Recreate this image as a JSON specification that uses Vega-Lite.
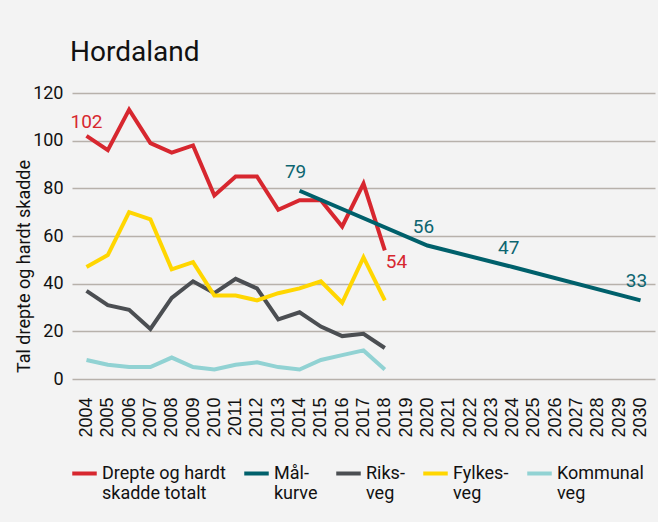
{
  "$schema": "https://vega.github.io/schema/vega-lite/v6.json",
  "width": 583,
  "height": 286,
  "autosize": "none",
  "padding": {"left": 72, "top": 93, "right": 3, "bottom": 143},
  "background": "#f3f3f3",
  "title": {
    "text": "Hordaland",
    "anchor": "start",
    "frame": "group",
    "font": "Roboto",
    "fontSize": 28,
    "fontWeight": "normal",
    "color": "#111111",
    "dx": -2,
    "offset": 17
  },
  "config": {
    "view": {"stroke": null},
    "font": "Roboto",
    "axisX": {"labelOverlap": false},
    "legend": {"gridAlign": "none"}
  },
  "datasets": {
    "lines": [
      {"year": 2004, "series": "Drepte og hardt skadde totalt", "value": 102},
      {"year": 2005, "series": "Drepte og hardt skadde totalt", "value": 96},
      {"year": 2006, "series": "Drepte og hardt skadde totalt", "value": 113},
      {"year": 2007, "series": "Drepte og hardt skadde totalt", "value": 99},
      {"year": 2008, "series": "Drepte og hardt skadde totalt", "value": 95},
      {"year": 2009, "series": "Drepte og hardt skadde totalt", "value": 98},
      {"year": 2010, "series": "Drepte og hardt skadde totalt", "value": 77},
      {"year": 2011, "series": "Drepte og hardt skadde totalt", "value": 85},
      {"year": 2012, "series": "Drepte og hardt skadde totalt", "value": 85},
      {"year": 2013, "series": "Drepte og hardt skadde totalt", "value": 71},
      {"year": 2014, "series": "Drepte og hardt skadde totalt", "value": 75},
      {"year": 2015, "series": "Drepte og hardt skadde totalt", "value": 75},
      {"year": 2016, "series": "Drepte og hardt skadde totalt", "value": 64},
      {"year": 2017, "series": "Drepte og hardt skadde totalt", "value": 82},
      {"year": 2018, "series": "Drepte og hardt skadde totalt", "value": 54},
      {"year": 2014, "series": "Målkurve", "value": 79},
      {"year": 2020, "series": "Målkurve", "value": 56},
      {"year": 2024, "series": "Målkurve", "value": 47},
      {"year": 2030, "series": "Målkurve", "value": 33},
      {"year": 2004, "series": "Riksveg", "value": 37},
      {"year": 2005, "series": "Riksveg", "value": 31},
      {"year": 2006, "series": "Riksveg", "value": 29},
      {"year": 2007, "series": "Riksveg", "value": 21},
      {"year": 2008, "series": "Riksveg", "value": 34},
      {"year": 2009, "series": "Riksveg", "value": 41},
      {"year": 2010, "series": "Riksveg", "value": 36},
      {"year": 2011, "series": "Riksveg", "value": 42},
      {"year": 2012, "series": "Riksveg", "value": 38},
      {"year": 2013, "series": "Riksveg", "value": 25},
      {"year": 2014, "series": "Riksveg", "value": 28},
      {"year": 2015, "series": "Riksveg", "value": 22},
      {"year": 2016, "series": "Riksveg", "value": 18},
      {"year": 2017, "series": "Riksveg", "value": 19},
      {"year": 2018, "series": "Riksveg", "value": 13},
      {"year": 2004, "series": "Fylkesveg", "value": 47},
      {"year": 2005, "series": "Fylkesveg", "value": 52},
      {"year": 2006, "series": "Fylkesveg", "value": 70},
      {"year": 2007, "series": "Fylkesveg", "value": 67},
      {"year": 2008, "series": "Fylkesveg", "value": 46},
      {"year": 2009, "series": "Fylkesveg", "value": 49},
      {"year": 2010, "series": "Fylkesveg", "value": 35},
      {"year": 2011, "series": "Fylkesveg", "value": 35},
      {"year": 2012, "series": "Fylkesveg", "value": 33},
      {"year": 2013, "series": "Fylkesveg", "value": 36},
      {"year": 2014, "series": "Fylkesveg", "value": 38},
      {"year": 2015, "series": "Fylkesveg", "value": 41},
      {"year": 2016, "series": "Fylkesveg", "value": 32},
      {"year": 2017, "series": "Fylkesveg", "value": 51},
      {"year": 2018, "series": "Fylkesveg", "value": 33},
      {"year": 2004, "series": "Kommunal veg", "value": 8},
      {"year": 2005, "series": "Kommunal veg", "value": 6},
      {"year": 2006, "series": "Kommunal veg", "value": 5},
      {"year": 2007, "series": "Kommunal veg", "value": 5},
      {"year": 2008, "series": "Kommunal veg", "value": 9},
      {"year": 2009, "series": "Kommunal veg", "value": 5},
      {"year": 2010, "series": "Kommunal veg", "value": 4},
      {"year": 2011, "series": "Kommunal veg", "value": 6},
      {"year": 2012, "series": "Kommunal veg", "value": 7},
      {"year": 2013, "series": "Kommunal veg", "value": 5},
      {"year": 2014, "series": "Kommunal veg", "value": 4},
      {"year": 2015, "series": "Kommunal veg", "value": 8},
      {"year": 2016, "series": "Kommunal veg", "value": 10},
      {"year": 2017, "series": "Kommunal veg", "value": 12},
      {"year": 2018, "series": "Kommunal veg", "value": 4}
    ],
    "redLabelsTop": [{"year": 2004, "value": 102}],
    "redLabelsBottom": [{"year": 2018, "value": 54}],
    "tealLabels": [
      {"year": 2014, "value": 79},
      {"year": 2020, "value": 56},
      {"year": 2024, "value": 47},
      {"year": 2030, "value": 33}
    ]
  },
  "layer": [
    {
      "data": {"name": "lines"},
      "mark": {"type": "line", "strokeWidth": 4, "strokeJoin": "miter", "strokeCap": "butt"},
      "encoding": {
        "x": {
          "field": "year",
          "type": "ordinal",
          "scale": {
            "type": "point",
            "padding": 0.68,
            "domain": [2004,2005,2006,2007,2008,2009,2010,2011,2012,2013,2014,2015,2016,2017,2018,2019,2020,2021,2022,2023,2024,2025,2026,2027,2028,2029,2030]
          },
          "axis": {
            "title": null,
            "labelAngle": 270,
            "labelFont": "Liberation Sans",
            "labelFontSize": 18,
            "labelColor": "#111111",
            "labelPadding": 18,
            "labelOverlap": false,
            "ticks": false,
            "domain": false,
            "grid": false
          }
        },
        "y": {
          "field": "value",
          "type": "quantitative",
          "scale": {"domain": [0, 120], "nice": false},
          "axis": {
            "title": "Tal drepte og hardt skadde",
            "titleFont": "Roboto",
            "titleFontSize": 18,
            "titleFontWeight": "normal",
            "titleColor": "#111111",
            "titleAngle": 270,
            "titleAlign": "center",
            "titleBaseline": "middle",
            "titleX": -48,
            "titleY": 173,
            "values": [0, 20, 40, 60, 80, 100, 120],
            "labelFont": "Roboto",
            "labelFontSize": 18,
            "labelColor": "#111111",
            "labelPadding": 9,
            "ticks": false,
            "domain": false,
            "grid": true,
            "gridColor": "#b7b1ab",
            "gridWidth": 1.6
          }
        },
        "color": {
          "field": "series",
          "type": "nominal",
          "sort": ["Drepte og hardt skadde totalt", "Målkurve", "Riksveg", "Fylkesveg", "Kommunal veg"],
          "scale": {
            "domain": ["Drepte og hardt skadde totalt", "Målkurve", "Riksveg", "Fylkesveg", "Kommunal veg"],
            "range": ["#d7272f", "#00606b", "#4b4e52", "#ffd600", "#91d2d3"]
          },
          "legend": {
            "title": null,
            "orient": "none",
            "legendX": -2,
            "legendY": 366,
            "direction": "horizontal",
            "columns": 5,
            "columnPadding": 10,
            "symbolType": "stroke",
            "symbolStrokeWidth": 4,
            "symbolSize": 600,
            "labelFont": "Roboto",
            "labelFontSize": 18,
            "labelColor": "#111111",
            "labelOffset": 3,
            "labelLimit": 300,
            "labelBaseline": "middle",
            "labelExpr": "datum.label == 'Drepte og hardt skadde totalt' ? ['Drepte og hardt', 'skadde totalt'] : datum.label == 'Målkurve' ? ['Mål-', 'kurve'] : datum.label == 'Riksveg' ? ['Riks-', 'veg'] : datum.label == 'Fylkesveg' ? ['Fylkes-', 'veg'] : ['Kommunal', 'veg']"
          }
        },
        "order": {"field": "year", "type": "quantitative"}
      }
    },
    {
      "data": {"name": "redLabelsTop"},
      "mark": {"type": "text", "font": "Roboto", "fontSize": 19, "color": "#d7272f", "baseline": "alphabetic", "align": "center", "dy": -8},
      "encoding": {
        "x": {"field": "year", "type": "ordinal"},
        "y": {"field": "value", "type": "quantitative"},
        "text": {"field": "value", "type": "quantitative"}
      }
    },
    {
      "data": {"name": "redLabelsBottom"},
      "mark": {"type": "text", "font": "Roboto", "fontSize": 19, "color": "#d7272f", "baseline": "top", "align": "left", "dx": 1, "dy": 3},
      "encoding": {
        "x": {"field": "year", "type": "ordinal"},
        "y": {"field": "value", "type": "quantitative"},
        "text": {"field": "value", "type": "quantitative"}
      }
    },
    {
      "data": {"name": "tealLabels"},
      "mark": {"type": "text", "font": "Roboto", "fontSize": 19, "color": "#0d6570", "baseline": "alphabetic", "align": "center", "dx": -4, "dy": -13},
      "encoding": {
        "x": {"field": "year", "type": "ordinal"},
        "y": {"field": "value", "type": "quantitative"},
        "text": {"field": "value", "type": "quantitative"}
      }
    }
  ]
}
